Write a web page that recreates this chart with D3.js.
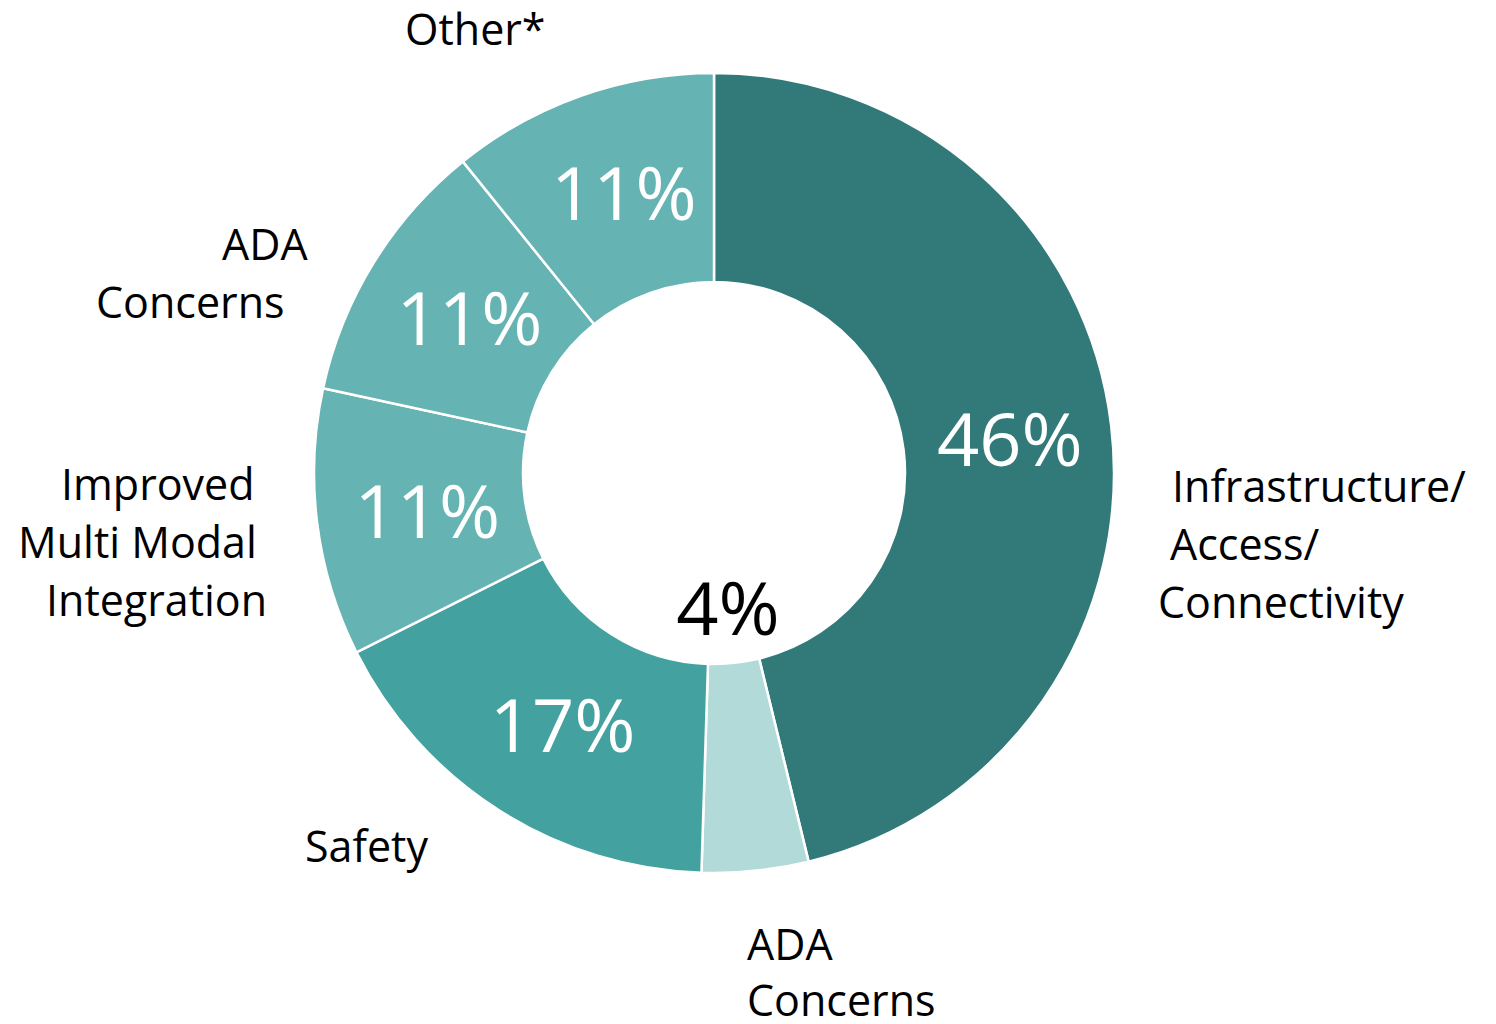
<!DOCTYPE html>
<html>
<head>
<meta charset="utf-8">
<script src="https://cdn.jsdelivr.net/npm/d3@7"></script>
<style>
  html, body { margin: 0; padding: 0; background: #fff; }
  svg text { font-family: "Open Sans", "Noto Sans", sans-serif; }
</style>
</head>
<body>
<svg id="chart"></svg>
<script>
// Data, clockwise from 12 o'clock
const categories = ["Infrastructure/Access/Connectivity", "ADA Concerns", "Safety",
  "Improved Multi Modal Integration", "ADA Concerns", "Other*"];
// slice sizes as measured from the arc angles; labels show them rounded
const shares = [46.2, 4.3, 17.1, 10.8, 10.8, 10.8];
const sliceColors = ["#327a79", "#b2dad9", "#43a1a0", "#66b3b3", "#66b3b3", "#66b3b3"];

// outer category labels, split into lines
const labelLines = [
  ["Infrastructure/", "Access/", "Connectivity"],
  ["ADA", "Concerns"],
  ["Safety"],
  ["Improved", "Multi Modal", "Integration"],
  ["ADA", "Concerns"],
  ["Other*"]
];

const width = 1496, height = 1024;
const cx = 714, cy = 473;
const outerR = 400, innerR = 191;

const svg = d3.select("#chart")
  .attr("width", width)
  .attr("height", height);

const g = svg.append("g")
  .attr("transform", `translate(${cx},${cy})`);

const data = categories.map((c, i) => ({ name: c, value: shares[i], i }));

const pie = d3.pie()
  .value(d => d.value)
  .sort(null);

const arc = d3.arc()
  .innerRadius(innerR)
  .outerRadius(outerR);

const labelArc = d3.arc()
  .innerRadius(298)
  .outerRadius(298);

// small slices get their number inside the hole
const holeArc = d3.arc()
  .innerRadius(135)
  .outerRadius(135);

const arcs = pie(data);

g.selectAll(".slice")
  .data(arcs)
  .enter()
  .append("path")
  .attr("class", "slice")
  .attr("d", arc)
  .attr("fill", d => sliceColors[d.data.i])
  .attr("stroke", "#fff")
  .attr("stroke-width", 2.5);

// percentage labels
g.selectAll(".pct")
  .data(arcs)
  .enter()
  .append("text")
  .attr("class", "pct")
  .attr("transform", d => {
    const small = d.data.value < 5;
    let [x, y] = small ? holeArc.centroid(d) : labelArc.centroid(d);
    if (!small && x < 0) x += 9; // left-side numbers sit a little inward
    return `translate(${x},${y})`;
  })
  .attr("text-anchor", "middle")
  .attr("dy", "0.38em")
  .attr("font-size", 74)
  .attr("fill", d => d.data.value < 5 ? "#000" : "#fff")
  .text(d => Math.round(d.data.value) + "%");

// outer category labels (positions set by hand, like the original layout)
const labelPos = [
  { x: 1172, y: 502, dx: [0, -2, -14] },
  { x: 747, y: 960, dx: [0, 0] },
  { x: 305, y: 862, dx: [0] },
  { x: 61, y: 500, dx: [0, -43, -15] },
  { x: 222, y: 260, dx: [0, -126] },
  { x: 405, y: 45, dx: [0] }
];
const lineH = 58;

labelLines.forEach((lines, i) => {
  const p = labelPos[i];
  const t = svg.append("text")
    .attr("class", "cat")
    .attr("font-size", 43)
    .attr("fill", "#000");
  lines.forEach((ln, j) => {
    t.append("tspan")
      .attr("x", p.x + p.dx[j])
      .attr("y", p.y + j * (i === 1 ? 56 : lineH))
      .text(ln);
  });
});
</script>
</body>
</html>
